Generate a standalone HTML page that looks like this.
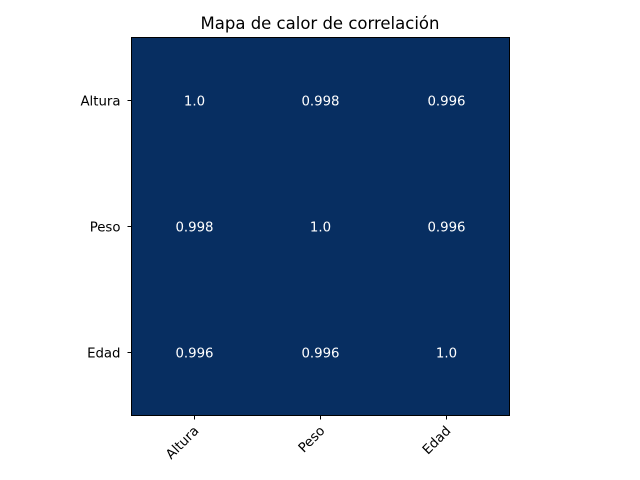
<!DOCTYPE html>
<html><head><meta charset="utf-8"><style>
body{margin:0;background:#fff;}
svg{display:block;font-family:"DejaVu Sans","Liberation Sans",sans-serif;}
</style></head><body>
<svg id="chart" width="640" height="480">
<rect width="640" height="480" fill="#fff"/>
<text x="320" y="29" text-anchor="middle" font-size="16.5">Mapa de calor de correlación</text>
<g id="cells"></g>
<g id="axes"></g>
</svg>
<script>
const categories = ["Altura","Peso","Edad"];
const values = [[1.0,0.998,0.996],[0.998,1.0,0.996],[0.996,0.996,1.0]];
const labels = [["1.0","0.998","0.996"],["0.998","1.0","0.996"],["0.996","0.996","1.0"]];
const L=131.5,T=37.5,S=378,n=categories.length,cw=S/n;
const ns="http://www.w3.org/2000/svg";
function xs(i){return L+cw*i;}
function ys(i){return T+cw*i;}
function color(v){const t=Math.max(0,Math.min(1,(v-0.996)/0.004));
 const a=[7,46,97],b=[7,46,97];return `rgb(${a.map((c,k)=>Math.round(c+(b[k]-c)*t)).join(',')})`;}
const cells=document.getElementById('cells'),axes=document.getElementById('axes');
function mk(tag,attrs,p){const e=document.createElementNS(ns,tag);for(const k in attrs)e.setAttribute(k,attrs[k]);p.appendChild(e);return e;}
for(let r=0;r<n;r++)for(let c=0;c<n;c++){
 const rc=mk('rect',{x:xs(c),y:ys(r),width:cw+0.5,height:cw+0.5,fill:color(values[r][c])},cells);
 
 
 const t=mk('text',{x:xs(c)+cw/2,y:ys(r)+cw/2+5,'text-anchor':'middle','font-size':'13.3',fill:'#fff'},cells);
 t.textContent=labels[r][c];
 
 
}
const fr=mk('rect',{x:L,y:T,width:S,height:S,fill:'none',stroke:'#000','stroke-width':1},axes);


for(let i=0;i<n;i++){
 const cx=xs(i)+cw/2,cy=ys(i)+cw/2;
 mk('line',{x1:cx,y1:T+S,x2:cx,y2:T+S+4,stroke:'#000'},axes);
 mk('line',{x1:L,y1:cy,x2:L-4,y2:cy,stroke:'#000'},axes);
 const xt=mk('text',{x:cx+5,y:T+S+16,'text-anchor':'end','font-size':'13.3',transform:`rotate(-45 ${cx+5} ${T+S+16})`},axes);
 xt.textContent=categories[i];
 
 
 const yt=mk('text',{x:L-11,y:cy+5,'text-anchor':'end','font-size':'13.3'},axes);
 yt.textContent=categories[i];
 
 
}
</script>
</body></html>
